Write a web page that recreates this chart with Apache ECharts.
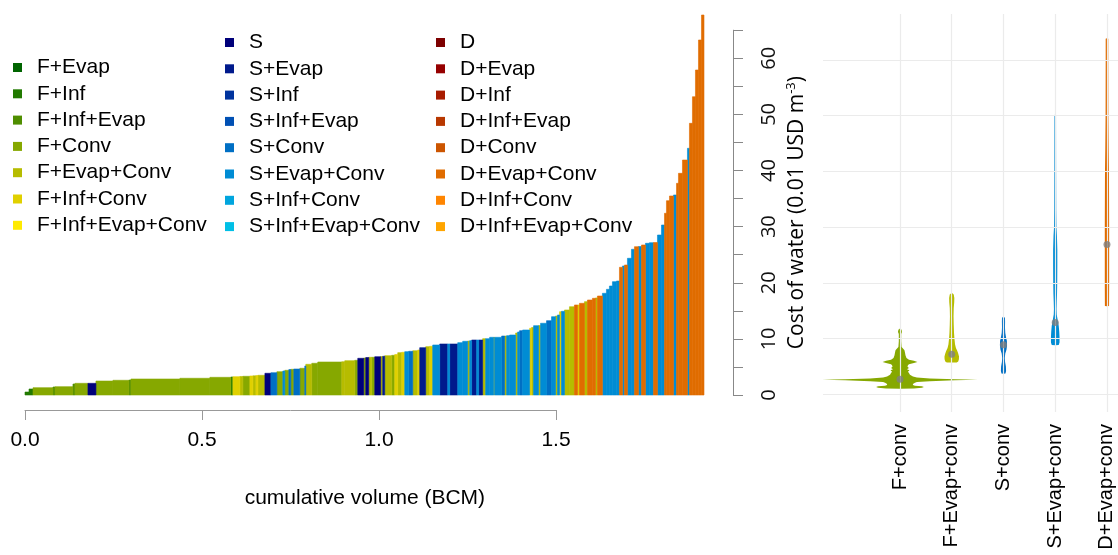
<!DOCTYPE html>
<html><head><meta charset="utf-8">
<script src="https://cdn.jsdelivr.net/npm/echarts@6/dist/echarts.min.js"></script>
<style>html,body{margin:0;padding:0;background:#fff}#c{width:1118px;height:555px}</style>
</head><body><div id="c"></div><script>
// ---------- data ----------
const categories = [
  'F+Evap','F+Inf','F+Inf+Evap','F+Conv','F+Evap+Conv','F+Inf+Conv','F+Inf+Evap+Conv',
  'S','S+Evap','S+Inf','S+Inf+Evap','S+Conv','S+Evap+Conv','S+Inf+Conv','S+Inf+Evap+Conv',
  'D','D+Evap','D+Inf','D+Inf+Evap','D+Conv','D+Evap+Conv','D+Inf+Conv','D+Inf+Evap+Conv'
];
const categoryColors = [
  '#006400','#217a00','#4f8e00','#86a800','#b6bc00','#e0d000','#ffea00',
  '#00007a','#001a8c','#00339e','#0050b4','#006fc4','#008cd4','#00a5de','#00bfe6',
  '#7d0000','#960000','#a81c00','#b83800','#cc5500','#e06c00','#ff8500','#ffa500'
];
// cost curve segments (sorted by cost): volume in BCM, cost in 0.01 USD m-3, type
const segVolume = [
  0.0113,0.0113,0.0565,0.0056,0.0508,0.0056,0.0367,0.0226,0.0480,0.0452,
  0.0056,0.1384,0.0847,0.0593,0.0056,0.0198,0.0085,0.0198,0.0085,0.0085,
  0.0056,0.0198,0.0169,0.0169,0.0169,0.0056,0.0113,0.0056,0.0085,0.0169,
  0.0141,0.0028,0.0169,0.0169,0.0678,0.0085,0.0282,0.0085,0.0169,0.0056,
  0.0085,0.0085,0.0085,0.0169,0.0056,0.0056,0.0198,0.0085,0.0085,0.0113,
  0.0085,0.0113,0.0113,0.0141,0.0056,0.0169,0.0113,0.0085,0.0198,0.0226,
  0.0056,0.0226,0.0141,0.0141,0.0056,0.0056,0.0141,0.0056,0.0113,0.0085,
  0.0113,0.0113,0.0028,0.0198,0.0085,0.0056,0.0085,0.0169,0.0056,0.0056,
  0.0085,0.0198,0.0056,0.0056,0.0141,0.0056,0.0169,0.0141,0.0113,0.0056,
  0.0056,0.0056,0.0085,0.0141,0.0141,0.0085,0.0056,0.0141,0.0085,0.0141,
  0.0085,0.0056,0.0141,0.0113,0.0085,0.0085,0.0113,0.0085,0.0085,0.0056,
  0.0085,0.0113,0.0085,0.0113,0.0085,0.0113,0.0113,0.0113,0.0113,0.0113,
  0.0085,0.0056,0.0085,0.0113,0.0085,0.0056,0.0113,0.0141,0.0056,0.0085,
  0.0085,0.0085,0.0085,0.0071
];
const segCost = [
  0.53,1.07,1.30,1.43,1.48,1.96,2.08,2.08,2.49,2.62,
  2.67,2.85,2.98,3.15,3.21,3.26,3.30,3.33,3.39,3.42,
  3.46,3.51,3.87,3.97,4.15,4.28,4.40,4.54,4.58,4.63,
  4.76,5.17,5.47,5.65,5.88,5.93,6.11,6.18,6.54,6.59,
  6.68,6.72,6.72,6.82,6.86,6.90,7.00,7.07,7.22,7.54,
  7.61,7.72,7.79,7.89,8.02,8.43,8.61,8.68,8.91,9.09,
  9.09,9.09,9.32,9.57,9.62,9.68,9.80,9.80,9.80,10.03,
  10.03,10.28,10.28,10.28,10.51,10.51,10.57,10.69,11.05,11.23,
  11.46,11.58,11.89,12.03,12.35,12.38,12.78,13.24,13.95,14.08,
  14.26,14.84,14.91,15.15,15.73,16.04,16.04,16.34,16.63,16.93,
  17.23,17.29,17.64,18.12,18.83,19.42,20.19,20.31,22.76,22.99,
  23.16,24.36,25.96,26.43,26.46,26.73,27.03,27.14,27.17,28.51,
  30.29,32.38,34.62,35.46,35.64,37.72,39.50,41.87,43.96,48.41,
  53.15,57.91,63.26,67.71
];
const segType = [
  'F+Inf','F+Inf','F+Conv','F+Inf+Evap','F+Conv','F+Inf+Evap','F+Conv','S','F+Conv','F+Conv',
  'F+Inf+Evap','F+Conv','F+Conv','F+Conv','F+Inf','F+Inf+Conv','F+Evap+Conv','F+Conv','F+Inf+Conv','F+Evap+Conv',
  'F+Inf+Conv','F+Evap+Conv','S','S+Conv','F+Conv','S+Evap+Conv','F+Conv','S+Conv','F+Conv','S+Conv',
  'F+Conv','S+Conv','F+Evap+Conv','F+Conv','F+Conv','F+Evap+Conv','F+Evap+Conv','F+Conv','S','F+Conv',
  'S','F+Evap+Conv','F+Conv','S','F+Evap+Conv','S+Evap','F+Evap+Conv','F+Conv','F+Inf+Conv','F+Evap+Conv',
  'F+Inf+Conv','S+Evap+Conv','S+Conv','F+Evap+Conv','F+Inf+Conv','S+Evap','F+Evap+Conv','F+Inf+Conv','S+Evap+Conv','S+Evap',
  'S+Evap+Conv','S+Evap','S+Evap+Conv','S+Evap+Conv','F+Evap+Conv','S+Evap+Conv','S+Evap','S+Evap+Conv','S+Evap','F+Evap+Conv',
  'S+Evap+Conv','S+Evap+Conv','F+Evap+Conv','S+Evap+Conv','S+Conv','F+Evap+Conv','S+Evap+Conv','S+Evap+Conv','F+Evap+Conv','S+Evap+Conv',
  'S+Conv','S+Evap+Conv','F+Inf+Conv','F+Evap+Conv','S+Evap+Conv','F+Evap+Conv','S+Evap+Conv','S+Conv','S+Evap+Conv','F+Evap+Conv',
  'S+Evap+Conv','F+Inf+Conv','S+Evap+Conv','F+Evap+Conv','F+Evap+Conv','D+Evap+Conv','F+Inf+Conv','D+Evap+Conv','F+Evap+Conv','D+Evap+Conv',
  'D+Evap+Conv','F+Evap+Conv','D+Evap+Conv','S+Evap+Conv','S+Evap+Conv','S+Evap+Conv','S+Evap+Conv','S+Evap+Conv','D+Evap+Conv','S+Evap+Conv',
  'D+Evap+Conv','S+Evap+Conv','S+Evap+Conv','D+Evap+Conv','S+Evap+Conv','D+Evap+Conv','S+Evap+Conv','S+Evap+Conv','D+Evap+Conv','S+Evap+Conv',
  'S+Evap+Conv','D+Evap+Conv','D+Evap+Conv','D+Evap+Conv','S+Evap+Conv','D+Evap+Conv','D+Evap+Conv','D+Evap+Conv','S+Evap+Conv','D+Evap+Conv',
  'D+Evap+Conv','D+Evap+Conv','D+Evap+Conv','D+Evap+Conv'
];
const volumeTicks = [0, 0.5, 1.0, 1.5];
const costTicks = [0, 5, 10, 15, 20, 25, 30, 35, 40, 45, 50, 55, 60, 65];

// violin panel
const violinNames = ['F+conv','F+Evap+conv','S+conv','S+Evap+conv','D+Evap+conv'];
const violinColors = ['#86a800','#b6bc00','#006fc4','#008cd4','#e06c00'];
const violinMedians = [2.7, 7.2, 8.9, 12.9, 26.9];
// [cost, density]
const violinFconv = [[1.0,0],[1.05,14],[1.15,22],[1.3,24],[1.45,22],[1.55,15],[1.65,13],[1.85,13],[2.05,15],[2.2,17],[2.35,30],[2.5,55],[2.62,78],[2.72,55],[2.85,30],[3.0,17],[3.2,13],[3.5,10],[3.8,9],[4.05,8],[4.3,9.5],[4.5,7],[4.7,9],[4.95,7.5],[5.2,8],[5.4,9],[5.6,14],[5.8,17.5],[6.0,14],[6.2,9],[6.5,6.5],[7.0,5.5],[7.5,5],[7.9,4.5],[8.2,3],[8.5,1.6],[9.5,1.2],[10.8,1.2],[11.2,2],[11.6,1.6],[11.8,0]];
const violinFEvapConv = [[5.7,0],[5.72,5],[5.9,6.5],[6.3,7.2],[6.8,7.3],[7.3,6.5],[7.8,5.5],[8.3,4.2],[9,3.3],[10,2.7],[11,2.3],[12.5,2],[14,1.8],[15.5,2],[16.5,2.5],[17.3,2.6],[17.9,2],[18.2,0]];
const violinSconv = [[3.7,0],[3.75,2],[4.2,2.6],[5,2.4],[5.8,1.6],[6.5,1.3],[7.3,1.8],[8.0,3.0],[8.8,3.6],[9.6,3.4],[10.3,2.5],[11,1.8],[12,1.5],[13,1.6],[13.7,1.5],[14.0,0]];
const violinSEvapConv = [[8.8,0],[8.85,3.5],[9.3,4.3],[10.3,4.3],[11.3,4],[12.3,3.5],[13.3,2.5],[14.3,1.5],[15.3,1.3],[16.5,1.5],[18,1.8],[20,2],[23,2.1],[26,2.1],[28.5,1.7],[30,1.2],[33,1],[40,0.9],[50,0.8],[50.3,0]];
const violinDEvapConv = [[15.8,0],[15.85,2.1],[20,2.2],[30,2.2],[40,2.0],[44,1.7],[50,1.4],[60,1.3],[63.8,1.3],[63.9,0]];
const violinGridValues = [0, 10, 20, 30, 40, 50, 60];

// ---------- build ----------
const violinProfiles = [violinFconv, violinFEvapConv, violinSconv, violinSEvapConv, violinDEvapConv];
let maxDensity = 0;
violinProfiles.forEach(p => p.forEach(q => { if (q[1] > maxDensity) maxDensity = q[1]; }));
const maxHalfWidth = 1.5; // in category units

const barData = categories.map(() => []);
let acc = 0;
for (let i = 0; i < segVolume.length; i++) {
  const k = categories.indexOf(segType[i]);
  barData[k].push([acc, acc + segVolume[i], segCost[i]]);
  acc += segVolume[i];
}

function renderBar(params, api) {
  const p0 = api.coord([api.value(0), api.value(2)]);
  const p1 = api.coord([api.value(1), 0]);
  const col = api.visual('color');
  return { type: 'rect', shape: { x: p0[0], y: p0[1], width: p1[0] - p0[0], height: p1[1] - p0[1] },
    style: { fill: col, stroke: col, lineWidth: 0.6 } };
}
function renderViolin(params, api) {
  const i = api.value(0);
  const prof = violinProfiles[i];
  const s = maxHalfWidth / maxDensity;
  const pts = [];
  for (let k = 0; k < prof.length; k++) pts.push(api.coord([i + prof[k][1] * s, prof[k][0]]));
  for (let k = prof.length - 1; k >= 0; k--) pts.push(api.coord([i - prof[k][1] * s, prof[k][0]]));
  return { type: 'polygon', shape: { points: pts }, style: { fill: violinColors[i] } };
}

const FONT = "'Liberation Sans', Arial, sans-serif";
const legendCommon = {
  orient: 'vertical', icon: 'rect', itemWidth: 9, itemHeight: 9, itemGap: 5.3, padding: 0,
  selectedMode: false,
  textStyle: { fontSize: 21, fontFamily: FONT, color: '#000', lineHeight: 20, padding: [0, 0, 0, 10] }
};

const series = categories.map((name, k) => ({
  type: 'custom', name, xAxisIndex: 0, yAxisIndex: 0, renderItem: renderBar,
  itemStyle: { color: categoryColors[k] }, encode: { x: [0, 1], y: 2 },
  data: barData[k], silent: true
}));
series.push({
  type: 'line', xAxisIndex: 3, yAxisIndex: 3, data: [], silent: true, z: 0,
  markLine: {
    silent: true, symbol: 'none', label: { show: false }, animation: false,
    lineStyle: { color: '#ebebeb', width: 1.2, type: 'solid' },
    data: violinGridValues.map(v => ({ yAxis: v })).concat(violinNames.map((n, i) => ({ xAxis: i })))
  }
});
series.push({
  type: 'custom', xAxisIndex: 3, yAxisIndex: 3, renderItem: renderViolin, z: 3, clip: false,
  encode: { x: 0, y: 1 }, data: violinNames.map((n, i) => [i, violinMedians[i]]), silent: true
});
series.push({
  type: 'scatter', xAxisIndex: 3, yAxisIndex: 3, z: 5, symbolSize: 7,
  itemStyle: { color: '#808080' }, data: violinNames.map((n, i) => [i, violinMedians[i]]), silent: true
});

const option = {
  animation: false,
  backgroundColor: '#fff',
  legend: [
    Object.assign({}, legendCommon, { data: categories.slice(0, 7), left: 13, top: 57 }),
    Object.assign({}, legendCommon, { data: categories.slice(7, 15), left: 225, top: 32 }),
    Object.assign({}, legendCommon, { data: categories.slice(15), left: 436, top: 32 })
  ],
  grid: [
    { left: 25, top: 2.16, width: 679.7, bottom: 160, outerBoundsMode: 'none' },
    { left: 25, top: 380, width: 531, bottom: 145, outerBoundsMode: 'none' },
    { left: 700, top: 30.2, width: 33, bottom: 160, outerBoundsMode: 'none' },
    { left: 823, top: 14, right: 0, bottom: 143, outerBoundsMode: 'none' }
  ],
  xAxis: [
    { gridIndex: 0, type: 'value', min: 0, max: 1.92,
      axisLine: { show: false, onZero: false }, axisTick: { show: false }, axisLabel: { show: false }, splitLine: { show: false },
      name: 'cumulative volume (BCM)', nameLocation: 'middle', nameGap: 93,
      nameTextStyle: { fontSize: 21, fontFamily: FONT, color: '#000' } },
    { gridIndex: 1, type: 'value', min: volumeTicks[0], max: volumeTicks[volumeTicks.length - 1],
      interval: volumeTicks[1] - volumeTicks[0],
      axisLine: { show: true, onZero: false, lineStyle: { color: '#999', width: 1 } },
      axisTick: { show: true, length: 10, lineStyle: { color: '#999', width: 1 } },
      axisLabel: { fontSize: 21, fontFamily: FONT, color: '#000', margin: 20, formatter: v => v.toFixed(1) },
      splitLine: { show: false } },
    { gridIndex: 2, type: 'value', min: 0, max: 1, show: false },
    { gridIndex: 3, type: 'value', min: -1.488, max: 4.213,
      axisLine: { show: false, onZero: false }, axisTick: { show: false }, splitLine: { show: false },
      axisLabel: { customValues: [0, 1, 2, 3, 4], rotate: 90, margin: 12, fontSize: 20, fontFamily: FONT, color: '#000',
        formatter: v => violinNames[Math.round(v)] || '' } }
  ],
  yAxis: [
    { gridIndex: 0, type: 'value', min: 0, max: 70, show: false },
    { gridIndex: 1, type: 'value', min: 0, max: 1, show: false },
    { gridIndex: 2, type: 'value', position: 'right', min: costTicks[0], max: costTicks[costTicks.length - 1],
      interval: costTicks[1] - costTicks[0],
      axisLine: { show: true, onZero: false, lineStyle: { color: '#888', width: 1 } },
      axisTick: { show: true, length: 10, lineStyle: { color: '#888', width: 1 } },
      axisLabel: { rotate: 90, margin: 26, fontSize: 20, fontFamily: "'Open Sans', sans-serif", color: '#111',
        formatter: v => (v % 10 === 0 ? String(v) : '') },
      splitLine: { show: false },
      name: '{a|Cost of water (0.01 USD m}{s|-3}{a|)}', nameLocation: 'middle', nameRotate: 90, nameGap: 52,
      nameTextStyle: { rich: {
        a: { fontSize: 21, fontFamily: "'Open Sans', sans-serif", color: '#000', lineHeight: 25 },
        s: { fontSize: 13, fontFamily: "'Open Sans', sans-serif", color: '#000', verticalAlign: 'top', lineHeight: 25 }
      } } },
    { gridIndex: 3, type: 'value', min: -3.18, max: 68.25, show: false }
  ],
  series
};
const chart = echarts.init(document.getElementById('c'), null, { renderer: 'canvas' });
chart.setOption(option);
</script></body></html>
